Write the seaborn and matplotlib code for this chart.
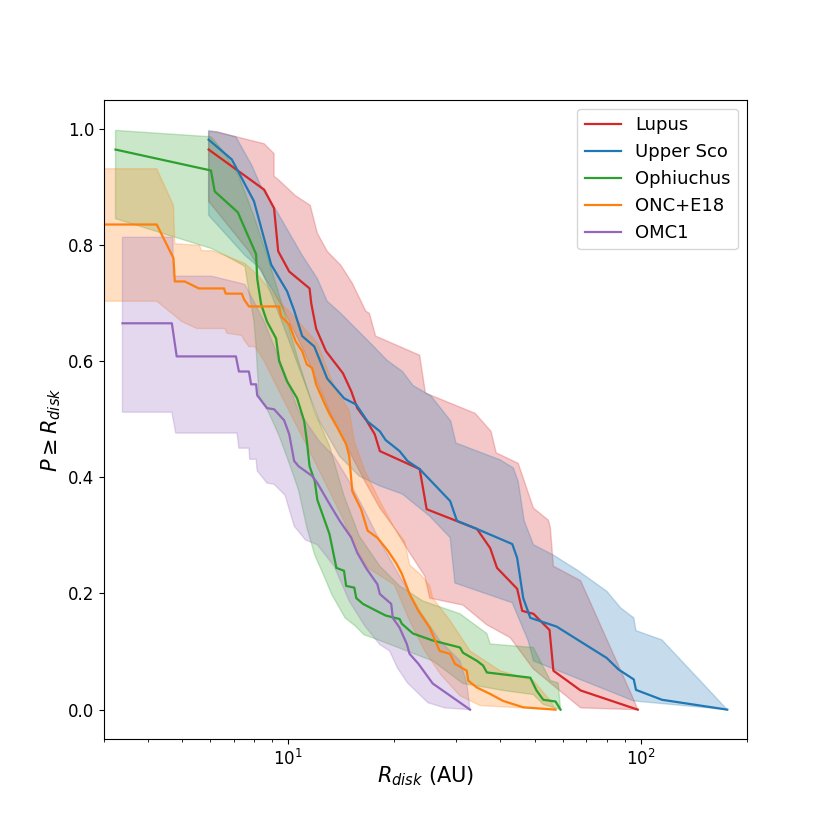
import numpy as np
import matplotlib
matplotlib.use("Agg")
import matplotlib.pyplot as plt
import seaborn as sns

names = ["Lupus", "Upper Sco", "Ophiuchus", "ONC+E18", "OMC1"]
colors = ["#d62728", "#1f77b4", "#2ca02c", "#ff7f0e", "#9467bd"]

# ---- Lupus ----
lupus_r = [5.95, 8.55, 9.12, 9.37, 10.07, 11.5, 11.63, 12.0, 12.8, 14.3, 15.1, 15.7, 16.7, 17.6, 18.2,
           23.6, 24.7, 34.3, 37.4, 39.1, 44.6, 46.1, 49.6, 55.1, 56.5, 67.5, 98.0]
lupus_p = [0.964, 0.895, 0.863, 0.789, 0.754, 0.725, 0.699, 0.656, 0.617, 0.579, 0.548, 0.519, 0.497, 0.474, 0.445,
           0.414, 0.345, 0.311, 0.278, 0.244, 0.208, 0.170, 0.165, 0.137, 0.067, 0.033, 0.0]
lupus_hi_r = [5.95, 6.28, 6.92, 8.55, 9.12, 9.12, 9.43, 10.47, 11.55, 12.1, 12.9, 14.1, 15.2, 16.6, 17.0, 17.7,
              23.6, 24.5, 33.9, 37.6, 38.9, 44.9, 49.6, 54.7, 55.4, 56.5, 67.5, 95.5, 98.0]
lupus_hi_p = [0.995, 0.995, 0.988, 0.974, 0.957, 0.918, 0.911, 0.885, 0.868, 0.820, 0.789, 0.765, 0.734, 0.686, 0.682, 0.643,
              0.610, 0.545, 0.510, 0.479, 0.442, 0.424, 0.347, 0.326, 0.313, 0.247, 0.222, 0.017, 0.0]
lupus_lo_r = [5.95, 7.74, 9.43, 11.1, 13.1, 14.9, 16.5, 18.2, 20.0, 22.1, 24.4, 25.2, 31.3, 36.6, 42.6, 49.6, 67.5, 98.0]
lupus_lo_p = [0.875, 0.789, 0.703, 0.617, 0.514, 0.445, 0.393, 0.347, 0.313, 0.270, 0.230, 0.192, 0.180, 0.146, 0.124,
              0.070, 0.003, 0.0]

# ---- Upper Sco ----
usco_r = [5.95, 6.92, 8.00, 8.95, 9.93, 10.4, 10.96, 11.86, 12.9, 14.4, 15.6, 16.8, 18.2, 18.9, 20.7, 21.8, 23.6,
          28.8, 30.1, 34.3, 43.2, 44.6, 46.4, 48.6, 57.7, 80.0, 86.5, 95.5, 96.9, 114.8, 175.8]
usco_p = [0.981, 0.947, 0.875, 0.766, 0.720, 0.687, 0.643, 0.625, 0.570, 0.536, 0.525, 0.496, 0.479, 0.464, 0.445,
          0.428, 0.414, 0.359, 0.325, 0.311, 0.285, 0.261, 0.192, 0.158, 0.143, 0.089, 0.069, 0.052, 0.034, 0.017, 0.0]
usco_hi_r = [5.95, 7.11, 7.90, 8.43, 9.18, 10.96, 12.1, 12.9, 14.1, 17.1, 19.1, 21.1, 22.6, 25.4, 28.9, 29.9, 39.9,
             43.5, 44.9, 46.7, 49.6, 56.5, 65.7, 80.0, 87.7, 95.5, 96.9, 114.8, 175.8]
usco_hi_p = [0.997, 0.986, 0.936, 0.897, 0.863, 0.782, 0.742, 0.703, 0.682, 0.631, 0.601, 0.582, 0.558, 0.540, 0.497,
             0.459, 0.430, 0.416, 0.393, 0.325, 0.284, 0.266, 0.241, 0.204, 0.175, 0.158, 0.136, 0.120, 0.0]
usco_lo_r = [5.95, 7.54, 8.38, 9.12, 10.07, 11.1, 12.25, 14.0, 15.9, 18.2, 21.1, 25.2, 28.8, 29.7, 43.2, 47.9, 49.6,
             95.5, 175.8]
usco_lo_p = [0.851, 0.782, 0.758, 0.703, 0.634, 0.565, 0.497, 0.436, 0.402, 0.385, 0.371, 0.333, 0.296, 0.218, 0.184,
             0.119, 0.084, 0.015, 0.0]

# ---- Ophiuchus ----
oph_r = [3.24, 6.04, 6.19, 7.20, 7.39, 8.11, 8.17, 8.38, 8.71, 9.24, 9.43, 9.93, 10.6, 11.1, 11.3, 11.5, 11.9, 12.1,
         13.1, 13.7, 14.4, 14.6, 15.4, 15.6, 16.3, 18.2, 18.9, 20.7, 21.0, 22.1, 22.6, 25.7, 30.7, 31.3, 34.3, 35.7,
         36.6, 48.6, 50.6, 52.9, 57.3, 59.2]
oph_p = [0.964, 0.928, 0.892, 0.856, 0.840, 0.784, 0.742, 0.698, 0.668, 0.639, 0.600, 0.565, 0.536, 0.497, 0.462,
         0.419, 0.393, 0.361, 0.302, 0.244, 0.239, 0.213, 0.210, 0.192, 0.182, 0.167, 0.162, 0.156, 0.148, 0.136,
         0.131, 0.119, 0.107, 0.098, 0.084, 0.076, 0.064, 0.055, 0.033, 0.017, 0.014, 0.0]
oph_hi_r = [3.24, 6.04, 6.57, 7.25, 8.00, 8.83, 9.74, 10.7, 11.86, 13.1, 14.4, 15.9, 18.2, 20.7, 24.1, 30.7, 36.6,
            37.4, 49.6, 55.4, 58.3, 59.2]
oph_hi_p = [0.997, 0.986, 0.960, 0.918, 0.849, 0.771, 0.686, 0.600, 0.514, 0.454, 0.368, 0.299, 0.247, 0.213, 0.187,
            0.165, 0.131, 0.113, 0.107, 0.050, 0.046, 0.0]
oph_lo_r = [3.24, 6.04, 6.62, 7.54, 7.74, 8.00, 8.11, 8.26, 8.83, 9.43, 10.07, 10.7, 11.3, 11.9, 12.7, 13.3, 14.5,
            15.5, 16.4, 18.2, 21.7, 25.7, 31.3, 36.6, 40.7, 49.6, 52.9, 59.2]
oph_lo_p = [0.845, 0.794, 0.782, 0.763, 0.720, 0.668, 0.625, 0.540, 0.510, 0.471, 0.424, 0.378, 0.313, 0.266, 0.227,
            0.198, 0.158, 0.144, 0.129, 0.119, 0.101, 0.084, 0.045, 0.038, 0.033, 0.026, 0.009, 0.0]

# ---- ONC+E18 ----
onc_r = [3.0, 4.24, 4.73, 4.77, 5.09, 5.58, 6.58, 6.65, 7.39, 7.50, 7.74, 9.43, 9.55, 10.07, 10.5, 10.96, 11.3,
         11.7, 12.0, 12.7, 13.1, 13.8, 14.6, 14.9, 15.2, 16.1, 16.8, 17.9, 19.2, 20.3, 21.0, 22.1, 23.4, 25.2, 26.9,
         28.8, 29.7, 32.1, 32.4, 34.3, 37.4, 40.7, 46.4, 57.3]
onc_p = [0.835, 0.835, 0.777, 0.737, 0.737, 0.725, 0.725, 0.716, 0.716, 0.706, 0.694, 0.694, 0.677, 0.663, 0.634,
         0.617, 0.594, 0.588, 0.560, 0.526, 0.509, 0.485, 0.457, 0.436, 0.376, 0.345, 0.308, 0.296, 0.273, 0.251,
         0.234, 0.199, 0.170, 0.141, 0.101, 0.096, 0.079, 0.067, 0.050, 0.038, 0.027, 0.015, 0.004, 0.0]
onc_hi_r = [3.0, 4.24, 4.73, 4.77, 5.61, 5.68, 6.07, 6.62, 7.54, 8.26, 9.43, 10.7, 12.1, 13.1, 13.8, 14.9, 15.4,
            16.5, 18.2, 20.0, 21.4, 22.1, 23.8, 25.2, 25.7, 28.8, 32.8, 39.9, 49.6, 55.4, 57.3]
onc_hi_p = [0.931, 0.931, 0.868, 0.802, 0.799, 0.790, 0.790, 0.782, 0.768, 0.746, 0.703, 0.668, 0.631, 0.576, 0.545,
            0.515, 0.462, 0.411, 0.359, 0.313, 0.290, 0.249, 0.232, 0.213, 0.192, 0.153, 0.101, 0.067, 0.050, 0.015, 0.0]
onc_lo_r = [3.0, 4.24, 4.68, 4.99, 5.51, 6.62, 6.70, 7.39, 7.50, 7.74, 8.05, 8.55, 9.43, 10.4, 11.5, 13.1, 14.4,
            15.4, 16.8, 20.0, 22.1, 24.4, 27.1, 30.7, 35.0, 57.3]
onc_lo_p = [0.703, 0.703, 0.682, 0.668, 0.656, 0.656, 0.648, 0.644, 0.636, 0.625, 0.625, 0.600, 0.548, 0.497, 0.445,
            0.376, 0.325, 0.282, 0.244, 0.215, 0.153, 0.101, 0.060, 0.024, 0.007, 0.0]

# ---- OMC1 ----
omc_r = [3.39, 4.68, 4.83, 7.11, 7.25, 7.74, 7.85, 8.11, 8.17, 8.71, 9.12, 9.74, 10.07, 10.4, 10.7, 11.7, 12.1,
         13.1, 14.0, 15.1, 15.7, 16.7, 17.9, 18.2, 19.6, 19.8, 20.7, 21.7, 22.1, 23.4, 25.7, 32.8]
omc_p = [0.665, 0.665, 0.608, 0.608, 0.582, 0.582, 0.560, 0.560, 0.541, 0.519, 0.517, 0.498, 0.474, 0.428, 0.419,
         0.402, 0.390, 0.354, 0.325, 0.296, 0.270, 0.242, 0.216, 0.199, 0.182, 0.158, 0.141, 0.113, 0.096, 0.079,
         0.045, 0.0]
omc_hi_r = [3.39, 4.71, 4.73, 6.07, 7.54, 8.55, 9.74, 10.7, 12.25, 13.5, 14.9, 16.5, 18.2, 20.7, 23.6, 26.9, 30.7,
            32.1, 32.8]
omc_hi_p = [0.813, 0.813, 0.746, 0.746, 0.732, 0.668, 0.582, 0.514, 0.462, 0.436, 0.393, 0.342, 0.290, 0.230, 0.170,
            0.119, 0.084, 0.045, 0.0]
omc_lo_r = [3.39, 4.68, 4.80, 7.16, 7.25, 7.74, 7.78, 8.11, 8.17, 8.71, 9.12, 9.80, 10.4, 11.2, 12.1, 13.5, 14.9,
            16.5, 18.2, 19.4, 20.4, 21.8, 24.9, 27.8, 32.8]
omc_lo_p = [0.512, 0.512, 0.476, 0.476, 0.450, 0.450, 0.431, 0.431, 0.411, 0.390, 0.388, 0.369, 0.316, 0.292, 0.284,
            0.247, 0.187, 0.144, 0.112, 0.101, 0.072, 0.046, 0.012, 0.003, 0.0]

series = [
    (lupus_r, lupus_p, lupus_hi_r, lupus_hi_p, lupus_lo_r, lupus_lo_p),
    (usco_r, usco_p, usco_hi_r, usco_hi_p, usco_lo_r, usco_lo_p),
    (oph_r, oph_p, oph_hi_r, oph_hi_p, oph_lo_r, oph_lo_p),
    (onc_r, onc_p, onc_hi_r, onc_hi_p, onc_lo_r, onc_lo_p),
    (omc_r, omc_p, omc_hi_r, omc_hi_p, omc_lo_r, omc_lo_p),
]

fig, ax = plt.subplots(figsize=(8.3, 8.3), dpi=100)

for name, col, (r, p, hr, hp, lr, lp) in zip(names, colors, series):
    sns.lineplot(x=r, y=p, ax=ax, color=col, label=name, sort=False, estimator=None, linewidth=1.6)
    xs = np.concatenate([hr, lr[::-1]])
    ys = np.concatenate([hp, lp[::-1]])
    ax.fill(xs, ys, facecolor=col, edgecolor=col, alpha=0.25, linewidth=1.0)

ax.set_xscale("log")
ax.set_xlim(3, 200)
ax.set_ylim(-0.05, 1.05)
ax.set_yticks([0.0, 0.2, 0.4, 0.6, 0.8, 1.0])
ax.tick_params(axis="both", which="major", labelsize=12)
ax.set_xlabel(r"$R_{disk}$ (AU)", fontsize=15, labelpad=-3)
ax.set_ylabel(r"$P \geq R_{disk}$", fontsize=15)
ax.yaxis.set_label_coords(-0.063, 0.484)
ax.legend(loc="upper right", fontsize=13)

fig.savefig("out.png", dpi=100)
